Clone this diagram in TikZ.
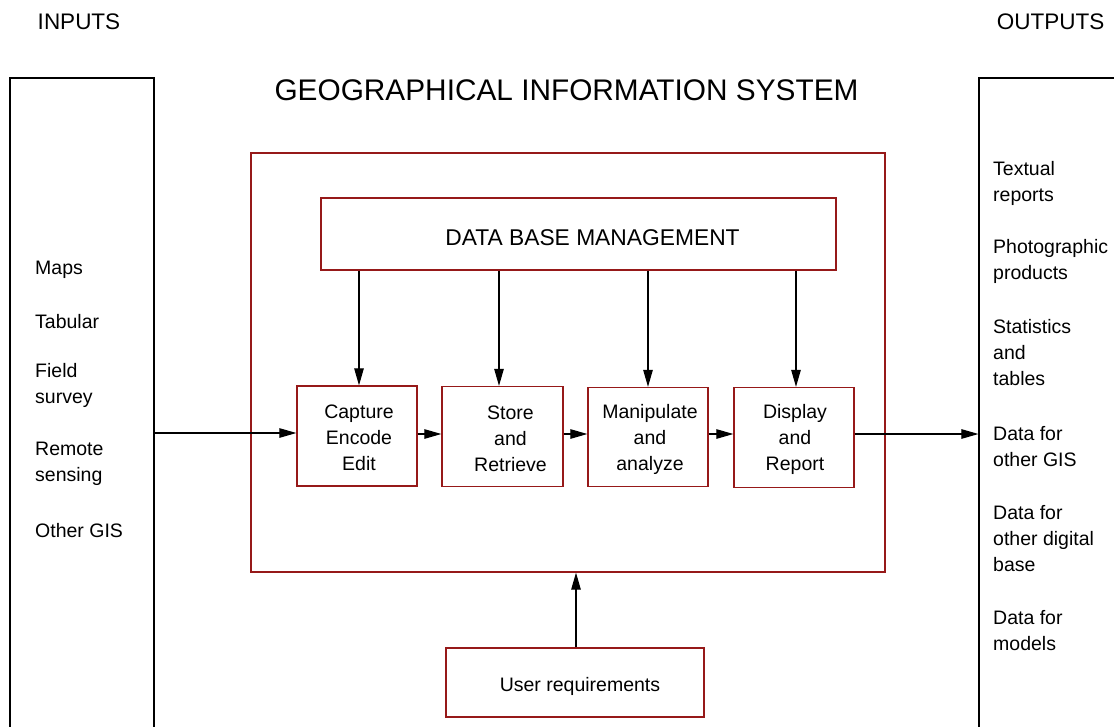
\documentclass[tikz,border=0pt]{standalone}
\usepackage{fontspec}
\setmainfont{Liberation Sans}
\usetikzlibrary{arrows.meta}
\definecolor{boxred}{RGB}{150,25,25}
\begin{document}
\begin{tikzpicture}[x=1pt,y=-1pt,
  every node/.style={font=\fontsize{19.5}{26}\selectfont},
  redbox/.style={draw=boxred,line width=1.3pt,fill=none,inner sep=0pt},
  blkbox/.style={draw=black,line width=1.2pt,inner sep=0pt},
  lbl/.style={inner sep=0pt,align=left,anchor=west},
  intxt/.style={inner sep=0pt,align=center},
  conn/.style={draw=black,line width=1.1pt,-{Triangle[length=17pt,width=9.5pt]}}
]
\useasboundingbox (0,0) rectangle (1114,726);

% headings
\node[font=\fontsize{22.5}{26}\selectfont] (inputs) at (79,22) {INPUTS};
\node[font=\fontsize{22.5}{26}\selectfont] (outputs) at (1050.5,22) {OUTPUTS};
\node[font=\fontsize{29.8}{34}\selectfont] (title) at (566.5,90) {GEOGRAPHICAL INFORMATION SYSTEM};

% side boxes (extend beyond page)
\node[blkbox,minimum width=144pt,minimum height=844pt] (lbox) at (82,500) {};
\node[blkbox,minimum width=400pt,minimum height=844pt] (rbox) at (1179,500) {};

% main GIS box
\node[redbox,minimum width=634pt,minimum height=419pt] (gis) at (568,362.5) {};
\node[redbox,minimum width=515pt,minimum height=72pt] (dbm) at (578.5,234) {};
\node[intxt,font=\fontsize{22.8}{26}\selectfont] (dbmtxt) at ([xshift=14pt,yshift=-4pt]dbm.center) {DATA BASE MANAGEMENT};

% process boxes
\node[redbox,minimum width=120pt,minimum height=100pt] (cap) at (357,436) {};
\node[intxt] (captxt) at ([xshift=2pt,yshift=-2pt]cap.center) {Capture\\Encode\\Edit};
\node[redbox,minimum width=121pt,minimum height=100pt] (store) at (502.5,436.5) {};
\node[intxt] (storetxt) at ([xshift=8pt,yshift=-2pt]store.center) {Store\\and\\Retrieve};
\node[redbox,minimum width=120pt,minimum height=99pt] (manip) at (648,437) {};
\node[intxt] (maniptxt) at ([xshift=2pt,yshift=-2pt]manip.center) {Manipulate\\and\\analyze};
\node[redbox,minimum width=120pt,minimum height=100pt] (disp) at (794,437.5) {};
\node[intxt] (disptxt) at ([xshift=1pt,yshift=-2pt]disp.center) {Display\\and\\Report};

% user requirements
\node[redbox,minimum width=258pt,minimum height=69pt] (user) at (575,682.5) {};
\node[intxt] (usertxt) at ([xshift=5pt,yshift=-4pt]user.center) {User requirements};

% input labels
\node[lbl] (maps) at (35,269.5) {Maps};
\node[lbl] (tab) at (35,321.5) {Tabular};
\node[lbl] (field) at (35,385.5) {Field\\survey};
\node[lbl] (remote) at (35,463.5) {Remote\\sensing};
\node[lbl] (ogis) at (35,530.5) {Other GIS};

% output labels
\node[lbl] (o1) at (993,183) {Textual\\reports};
\node[lbl] (o2) at (993,261.5) {Photographic\\products};
\node[lbl] (o3) at (993,353) {Statistics\\and\\tables};
\node[lbl] (o4) at (993,446.5) {Data for\\other GIS};
\node[lbl] (o5) at (993,539) {Data for\\other digital\\base};
\node[lbl] (o6) at (993,630.5) {Data for\\models};

% connectors
\draw[conn] (lbox.east |- 0,433) -- (cap.west |- 0,433);
\draw[conn] (cap.east |- 0,434) -- (store.west |- 0,434);
\draw[conn] (store.east |- 0,434) -- (manip.west |- 0,434);
\draw[conn] (manip.east |- 0,434) -- (disp.west |- 0,434);
\draw[conn] (disp.east |- 0,434) -- (rbox.west |- 0,434);

\draw[conn] (dbm.south -| 359,0) -- (cap.north -| 359,0);
\draw[conn] (dbm.south -| 499,0) -- (store.north -| 499,0);
\draw[conn] (dbm.south -| 648,0) -- (manip.north -| 648,0);
\draw[conn] (dbm.south -| 796,0) -- (disp.north -| 796,0);

\draw[conn] (user.north -| 576,0) -- (gis.south -| 576,0);
\end{tikzpicture}
\end{document}
